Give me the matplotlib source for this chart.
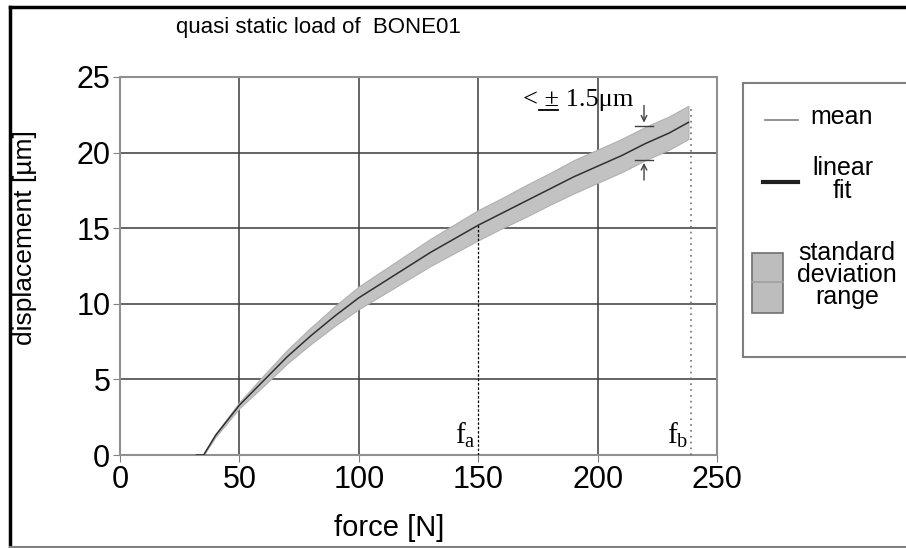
import matplotlib.pyplot as plt
from matplotlib.patches import Rectangle
from matplotlib.lines import Line2D

# data
force = [32, 35, 40, 50, 60, 70, 80, 90, 100, 110, 120, 130, 140, 150,
         160, 170, 180, 190, 200, 210, 220, 230, 238]
mean = [0, 0, 1.3, 3.3, 4.9, 6.5, 7.9, 9.2, 10.4, 11.4, 12.4, 13.4, 14.3, 15.2,
        16.0, 16.8, 17.6, 18.4, 19.1, 19.8, 20.6, 21.3, 22.0]
sd = [0, 0, 0.1, 0.2, 0.35, 0.45, 0.55, 0.65, 0.75, 0.8, 0.85, 0.9, 0.95, 1.0,
      1.0, 1.05, 1.05, 1.1, 1.1, 1.1, 1.1, 1.1, 1.1]
f_a = 150
f_b = 239
x_ticks = [0, 50, 100, 150, 200, 250]
y_ticks = [0, 5, 10, 15, 20, 25]

plt.rcParams['font.family'] = ['Liberation Sans', 'DejaVu Sans']

fig = plt.figure(figsize=(9.06, 5.48), dpi=100)
ax = fig.add_axes([0.1325, 0.1697, 0.659, 0.6898])
ax.set_xlim(0, 250)
ax.set_ylim(0, 25)
ax.set_xticks(x_ticks)
ax.set_yticks(y_ticks)
ax.tick_params(labelsize=22, length=5, color='#808080', pad=2)
for s in ax.spines.values():
    s.set_color('#909090')
    s.set_linewidth(1.5)

# grid: horizontal full, vertical full except below the curve at f_a
grid_c = '#3a3a3a'
for y in y_ticks[1:-1]:
    ax.axhline(y, color=grid_c, lw=1.1, zorder=1)
for x in [50, 100, 200]:
    ax.axvline(x, color=grid_c, lw=1.1, zorder=1)
y_fa = mean[force.index(f_a)]
ax.vlines(f_a, y_fa, 25, color=grid_c, lw=1.1, zorder=1)
ax.vlines(f_a, 0, y_fa, color='black', lw=0.9, linestyles=(0, (2, 1.5)), zorder=3)
ax.vlines(f_b, 0, mean[-1] + sd[-1], color='#707070', lw=1.2,
          linestyles=(0, (1, 2.5)), zorder=3)

# standard deviation band and mean
lo = [m - s for m, s in zip(mean, sd)]
hi = [m + s for m, s in zip(mean, sd)]
ax.fill_between(force, lo, hi, color='#c2c2c2', edgecolor='#b0b0b0', lw=0.8, zorder=2)
ax.plot(force, mean, color='#303030', lw=1.1, zorder=4)

# +/- 1.5 um annotation
ax.text(168.8, 23.5, '< ± 1.5μm', family='Liberation Serif', fontsize=19,
        ha='left', va='center', zorder=5)
ax.plot([175.6, 183.4], [22.85, 22.85], color='black', lw=1.3, zorder=5)
ax.annotate('', xy=(219.4, 21.8), xytext=(219.4, 23.3),
            arrowprops=dict(arrowstyle='->', color='#404040', lw=1.0))
ax.annotate('', xy=(219.4, 19.5), xytext=(219.4, 18.0),
            arrowprops=dict(arrowstyle='->', color='#404040', lw=1.0))
ax.plot([215.5, 223.0], [21.76, 21.76], color='#404040', lw=1.0, zorder=5)
ax.plot([215.5, 223.0], [19.5, 19.5], color='#404040', lw=1.0, zorder=5)

ax.text(144.5, 0.3, r'$\mathregular{f_a}$', family='Liberation Serif',
        fontsize=21, ha='center', va='bottom')
ax.text(233.6, 0.3, r'$\mathregular{f_b}$', family='Liberation Serif',
        fontsize=21, ha='center', va='bottom')

# titles
fig.text(0.351, 0.949, 'quasi static load of  BONE01', fontsize=16,
         ha='center', va='center')
fig.text(0.430, 0.036, 'force [N]', fontsize=21, ha='center', va='center')
fig.text(0.028, 0.566, 'displacement [µm]', fontsize=19, rotation=90,
         ha='center', va='center')

# legend drawn by hand
fig.patches.append(Rectangle((0.820, 0.3485), 0.2, 0.5, transform=fig.transFigure,
                             facecolor='white', edgecolor='#7f7f7f', lw=1.5))
fig.lines.append(Line2D([0.8444, 0.8808], [0.781, 0.781], transform=fig.transFigure,
                        color='#808080', lw=1.2))
fig.text(0.894, 0.787, 'mean', fontsize=18, ha='left', va='center')
fig.lines.append(Line2D([0.842, 0.8808], [0.668, 0.668], transform=fig.transFigure,
                        color='#202020', lw=3))
fig.text(0.930, 0.672, 'linear\nfit', fontsize=18, ha='center', va='center',
         linespacing=0.95)
fig.patches.append(Rectangle((0.830, 0.4288), 0.0342, 0.1095, transform=fig.transFigure,
                             facecolor='#bdbdbd', edgecolor='#707070', lw=1.2))
fig.lines.append(Line2D([0.830, 0.8642], [0.4854, 0.4854], transform=fig.transFigure,
                        color='#a0a0a0', lw=1.2))
fig.text(0.935, 0.498, 'standard\ndeviation\nrange', fontsize=18, ha='center',
         va='center', linespacing=0.88)

# outer frame
fig.lines.append(Line2D([0.011, 0.011], [0.0, 0.987], transform=fig.transFigure,
                        color='black', lw=2.5))
fig.lines.append(Line2D([0.011, 1.0], [0.987, 0.987], transform=fig.transFigure,
                        color='black', lw=2.5))
fig.lines.append(Line2D([0.011, 1.0], [0.002, 0.002], transform=fig.transFigure,
                        color='#808080', lw=1.5))

fig.savefig('out.png', dpi=100)
